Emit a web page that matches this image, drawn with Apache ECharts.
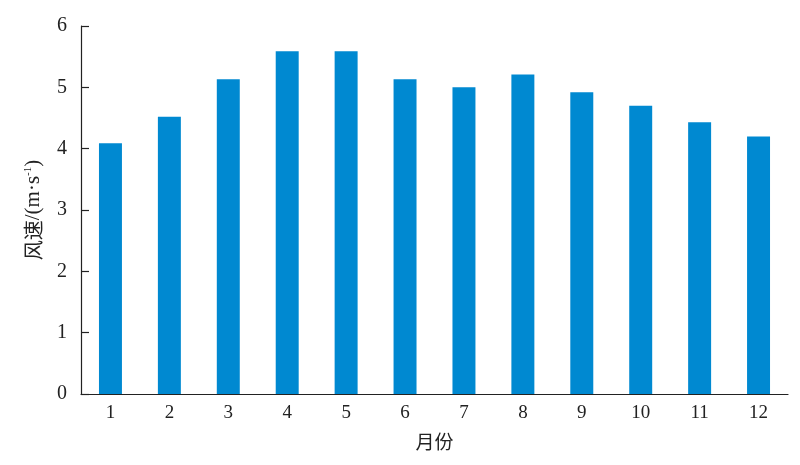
<!DOCTYPE html>
<html><head><meta charset="utf-8">
<script src="https://cdn.jsdelivr.net/npm/echarts@6/dist/echarts.min.js"></script>
<style>html,body{margin:0;padding:0;background:#fff}#c{width:800px;height:465px}</style>
</head><body><div id="c"></div>
<script>
const months = ['1','2','3','4','5','6','7','8','9','10','11','12'];
const windSpeed = [4.09, 4.52, 5.13, 5.59, 5.59, 5.13, 5.0, 5.21, 4.92, 4.70, 4.43, 4.20];
const yTicks = [0, 1, 2, 3, 4, 5, 6];

const serif = '"Liberation Serif", "Times New Roman", "Noto Sans CJK SC", serif';
const cjk = '"Noto Sans CJK SC", "Liberation Serif", serif';
const chart = echarts.init(document.getElementById('c'));
chart.setOption({
  animation: false,
  grid: {left: 81, top: 26, right: 12, bottom: 71, containLabel: false},
  xAxis: {
    type: 'category', data: months,
    axisLine: {lineStyle: {color: '#222', width: 1.2}},
    axisTick: {show: false},
    axisLabel: {color: '#222', fontFamily: serif, fontSize: 19, margin: 10},
    name: '月份', nameLocation: 'middle', nameGap: 38,
    nameTextStyle: {color: '#222', fontFamily: cjk, fontSize: 19}
  },
  yAxis: {
    type: 'value', min: yTicks[0], max: yTicks[yTicks.length - 1], interval: 1,
    axisLine: {show: true, lineStyle: {color: '#222', width: 1.2}},
    axisTick: {show: true, inside: true, length: 8, lineStyle: {color: '#222', width: 1.2}},
    splitLine: {show: false},
    axisLabel: {color: '#222', fontFamily: serif, fontSize: 20, margin: 14},
    name: '{c|风速}{a|/(m·s}{s|-1}{a|)}', nameLocation: 'middle', nameGap: 37, nameRotate: 90,
    nameTextStyle: {
      rich: {
        c: {color: '#222', fontFamily: cjk, fontSize: 20},
        a: {color: '#222', fontFamily: serif, fontSize: 21},
        s: {color: '#222', fontFamily: serif, fontSize: 11, verticalAlign: 'top', padding: [0, 0, 8, 0]}
      }
    }
  },
  series: [{
    type: 'bar', data: windSpeed, barWidth: '39%',
    itemStyle: {color: '#0089D1'}
  }]
});
</script></body></html>
